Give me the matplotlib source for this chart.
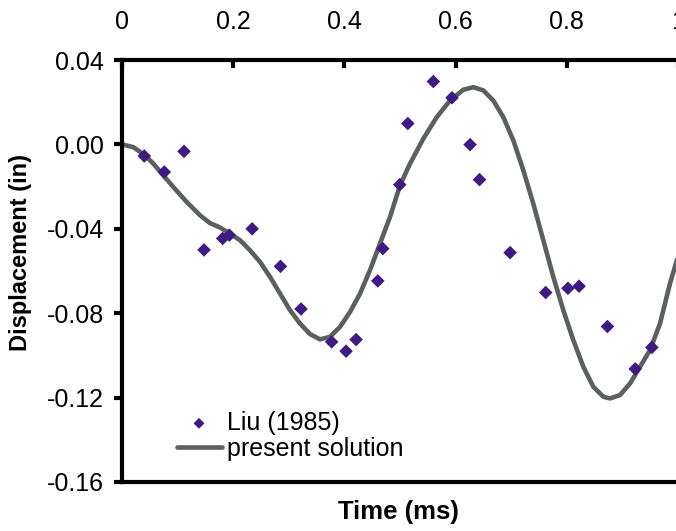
import matplotlib
matplotlib.use('Agg')
import matplotlib.pyplot as plt

plt.rcParams['font.family'] = ['Liberation Sans', 'DejaVu Sans']

# Liu (1985) data points
liu_t = [0.040, 0.076, 0.1115, 0.1475, 0.181, 0.193, 0.234, 0.285, 0.322,
         0.377, 0.403, 0.421, 0.460, 0.469, 0.4995, 0.514, 0.560, 0.5935,
         0.626, 0.643, 0.698, 0.762, 0.802, 0.822, 0.873, 0.923, 0.953]
liu_d = [-0.0055, -0.0131, -0.0033, -0.0500, -0.0446, -0.0430, -0.0400, -0.0578, -0.0780,
         -0.0936, -0.0980, -0.0925, -0.0647, -0.0494, -0.0191, 0.0099, 0.0298, 0.0221,
         -0.0001, -0.0167, -0.0513, -0.0702, -0.0682, -0.0672, -0.0863, -0.1064, -0.0962]

# present solution curve
sol_t = [0.0, 0.0203, 0.0414, 0.0563, 0.0743, 0.0923, 0.1164, 0.1403, 0.1583, 0.1763,
         0.1942, 0.2122, 0.2302, 0.2482, 0.2662, 0.2842, 0.3022, 0.3201, 0.3381, 0.3561,
         0.3741, 0.3921, 0.4101, 0.4281, 0.4460, 0.4640, 0.4820, 0.5000, 0.5180, 0.5419,
         0.5660, 0.5899, 0.6138, 0.6318, 0.6498, 0.6678, 0.6858, 0.7038, 0.7218, 0.7397,
         0.7577, 0.7757, 0.7937, 0.8117, 0.8297, 0.8477, 0.8657, 0.8777, 0.8957, 0.9137,
         0.9317, 0.9496, 0.9676, 0.9856, 1.0]
sol_d = [0.0, -0.0013, -0.0052, -0.0091, -0.0147, -0.0202, -0.0273, -0.0336, -0.0373, -0.0394,
         -0.0423, -0.0454, -0.0502, -0.0557, -0.0628, -0.0707, -0.0786, -0.0849, -0.0899, -0.0924,
         -0.0912, -0.0865, -0.0794, -0.0707, -0.0596, -0.0470, -0.0344, -0.0194, -0.0091, 0.0027,
         0.0129, 0.0208, 0.0259, 0.0271, 0.0256, 0.0208, 0.0129, 0.0019, -0.0123, -0.0281,
         -0.0454, -0.0628, -0.0786, -0.0928, -0.1054, -0.1149, -0.1196, -0.1204, -0.1188, -0.1133,
         -0.1054, -0.0975, -0.0849, -0.0659, -0.0530]

fig = plt.figure(figsize=(6.76, 5.31), dpi=100)
ax = fig.add_axes([0.1805, 0.0923, 0.8225, 0.7947])

ax.plot(sol_t, sol_d, color='#5b5f5f', lw=3.3, label='present solution', zorder=2,
        solid_capstyle='round', solid_joinstyle='round')
ax.scatter(liu_t, liu_d, marker='D', s=48, color='#3f1a84', edgecolors='none',
           label='Liu (1985)', zorder=3)

ax.set_xlim(0, 1)
ax.set_ylim(-0.16, 0.04)
ax.set_xticks([0, 0.2, 0.4, 0.6, 0.8, 1.0])
ax.set_xticklabels(['0', '0.2', '0.4', '0.6', '0.8', '1'])
ax.set_yticks([-0.16, -0.12, -0.08, -0.04, 0.0, 0.04])
ax.set_yticklabels(['-0.16', '-0.12', '-0.08', '-0.04', '0.00', '0.04'])

ax.xaxis.tick_top()
ax.tick_params(axis='x', direction='in', length=6, width=3, labelsize=18, pad=19,
               top=True, bottom=False)
ax.tick_params(axis='y', direction='out', length=6, width=3, labelsize=18, pad=7)

for s in ['left', 'top', 'bottom']:
    ax.spines[s].set_linewidth(3)
ax.spines['right'].set_visible(False)

ax.set_xlabel('Time (ms)', fontsize=18.5, fontweight='bold')
ax.xaxis.set_label_position('bottom')
ax.xaxis.set_label_coords(0.498, -0.043)
ax.set_ylabel('Displacement (in)', fontsize=17, fontweight='bold')
ax.yaxis.set_label_coords(-0.162, 0.543)

h, l = ax.get_legend_handles_labels()
ax.legend(h[::-1], l[::-1], loc='lower left', bbox_to_anchor=(0.098, 0.05), frameon=False,
          fontsize=18, handlelength=1.8, handletextpad=0.2, labelspacing=0.08,
          markerscale=0.8, borderaxespad=0, borderpad=0)

fig.savefig('out.png', dpi=100)
